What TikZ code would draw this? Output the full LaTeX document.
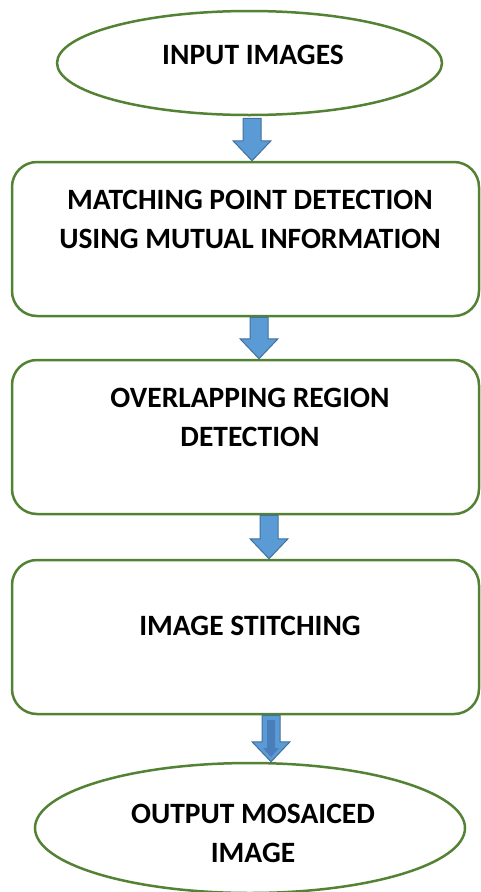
\documentclass[tikz,border=0pt]{standalone}
\usepackage{fontspec}
\setmainfont{Carlito}
\usetikzlibrary{shapes.geometric,calc}
\definecolor{boxgreen}{HTML}{548235}
\definecolor{arrowblue}{HTML}{5B9BD5}
\definecolor{arrowedge}{HTML}{41719C}
\definecolor{arrowdark}{HTML}{4A7EBB}
\newcommand{\blockarrow}[2]{%
  \draw[blockarr] let \p1=#1, \p2=#2 in
    (\x1-9pt,\y1) -- (\x1+9pt,\y1) -- (\x1+9pt,\y2+20pt) -- (\x1+19pt,\y2+20pt)
    -- (\x1,\y2) -- (\x1-19pt,\y2+20pt) -- (\x1-9pt,\y2+20pt) -- cycle;}
\begin{document}
\begin{tikzpicture}[x=1pt,y=-1pt,
  endbox/.style={ellipse,draw=boxgreen,line width=2.5pt,fill=white,inner sep=0pt},
  stepbox/.style={draw=boxgreen,line width=2.5pt,rounded corners=25pt,fill=white,
    minimum width=467pt,minimum height=154pt,inner sep=0pt},
  txt/.style={font=\fontsize{29.5}{39}\selectfont\bfseries,align=center,inner sep=0pt},
  blockarr/.style={fill=arrowblue,draw=arrowedge,line width=1pt,line join=miter}]
\useasboundingbox (0,0) rectangle (480,892);

\node[endbox,minimum width=385pt,minimum height=104pt] (input) at (249.5,63) {};
\node[stepbox] (match) at (245.5,239) {};
\node[stepbox] (overlap) at (245.5,437) {};
\node[stepbox] (stitch) at (245.5,637) {};
\node[endbox,minimum width=430pt,minimum height=130pt] (output) at (250,828) {};

\coordinate (a1) at (252,0);
\coordinate (a2) at (259,0);
\coordinate (a3) at (269,0);
\coordinate (a4) at (271,0);

\blockarrow{($(input.south -| a1)+(0,2)$)}{(match.north -| a1)}
\blockarrow{(match.south -| a2)}{(overlap.north -| a2)}
\blockarrow{(overlap.south -| a3)}{(stitch.north -| a3)}
\blockarrow{(stitch.south -| a4)}{(output.north -| a4)}
\fill[arrowdark] (267,720) -- (275,720) -- (275,748) -- (279,748) -- (271,757)
  -- (263,748) -- (267,748) -- cycle;

\node[txt] (inputtxt) at (253,55) {INPUT IMAGES};
\node[txt] (matchtxt) at (250,219) {MATCHING POINT DETECTION\\USING MUTUAL INFORMATION};
\node[txt] (overlaptxt) at (250,417) {OVERLAPPING REGION\\DETECTION};
\node[txt] (stitchtxt) at (250,626) {IMAGE STITCHING};
\node[txt] (outputtxt) at (253,833.5) {OUTPUT MOSAICED\\IMAGE};
\end{tikzpicture}
\end{document}
